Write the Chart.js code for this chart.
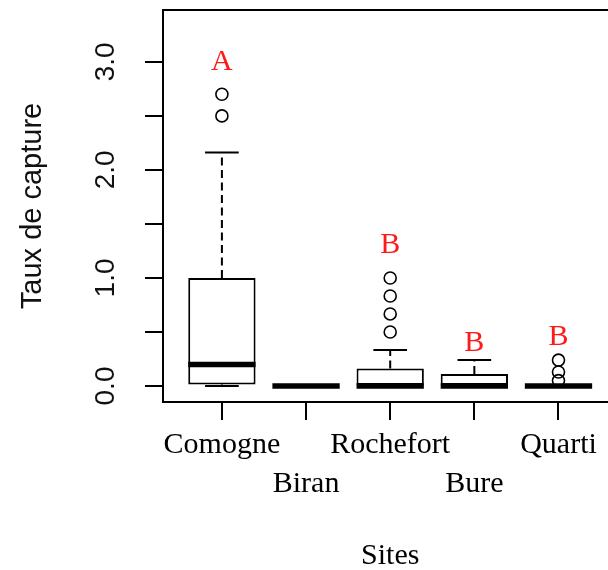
<!DOCTYPE html>
<html>
<head>
<meta charset="utf-8">
<script src="https://cdn.jsdelivr.net/npm/chart.js@4/dist/chart.umd.min.js"></script>
<style>
html, body { margin: 0; padding: 0; overflow: hidden; background: #fff; }
canvas { display: block; }
</style>
</head>
<body>
<canvas id="c" width="625" height="570"></canvas>
<script>
// ---- data ----
const sites = ['Comogne', 'Biran', 'Rochefort', 'Bure', 'Quarti'];
const whiskerLow = [0, 0, 0, 0, 0];
const q1 = [0.015, 0, 0, 0, 0];
const median = [0.2, 0, 0, 0, 0];
const q3 = [1.0, 0, 0.163, 0.11, 0];
const whiskerHigh = [2.16, 0, 0.333, 0.24, 0];
const outliers = [[2.5, 2.7], [], [0.5, 0.667, 0.833, 1.0], [], [0.05, 0.13, 0.24]];
const groupLetters = ['A', '', 'B', 'B', 'B'];
const letterY = [3.0, null, 1.3, 0.4, 0.45];
const yTicks = [0, 0.5, 1, 1.5, 2, 2.5, 3];
const yTickLabels = ['0.0', '', '1.0', '', '2.0', '', '3.0'];
const xLabelRows = [0, 1, 0, 1, 0]; // staggered label rows
const yTitle = 'Taux de capture';
const xTitle = 'Sites';

const boxData = sites.map((s, i) => ({ x: i + 1, y: [q1[i], q3[i]] }));
const outlierData = [];
outliers.forEach((arr, i) => arr.forEach(v => outlierData.push({ x: i + 1, y: v })));

const boxPlugin = {
  id: 'boxExtras',
  afterDatasetsDraw(chart) {
    const ctx = chart.ctx;
    const xs = chart.scales.x, ys = chart.scales.y;
    ctx.save();
    ctx.strokeStyle = '#000';
    sites.forEach((s, i) => {
      const cx = xs.getPixelForValue(i + 1);
      const half = xs.getPixelForValue(i + 1.4) - cx;
      const capHalf = xs.getPixelForValue(i + 1.2) - cx;
      // dashed whiskers
      ctx.lineWidth = 2;
      ctx.setLineDash([8, 4.5]);
      ctx.beginPath();
      ctx.moveTo(cx, ys.getPixelForValue(q3[i]));
      ctx.lineTo(cx, ys.getPixelForValue(whiskerHigh[i]));
      ctx.moveTo(cx, ys.getPixelForValue(q1[i]));
      ctx.lineTo(cx, ys.getPixelForValue(whiskerLow[i]));
      ctx.stroke();
      ctx.setLineDash([]);
      // whisker caps
      ctx.beginPath();
      const yh = ys.getPixelForValue(whiskerHigh[i]);
      const yl = ys.getPixelForValue(whiskerLow[i]);
      ctx.moveTo(cx - capHalf, yh); ctx.lineTo(cx + capHalf, yh);
      ctx.moveTo(cx - capHalf, yl); ctx.lineTo(cx + capHalf, yl);
      ctx.stroke();
      // median
      ctx.lineWidth = 5.5;
      const ym = ys.getPixelForValue(median[i]);
      ctx.beginPath();
      ctx.moveTo(cx - half, ym); ctx.lineTo(cx + half, ym);
      ctx.stroke();
    });
    ctx.restore();
  },
  afterDraw(chart) {
    const ctx = chart.ctx;
    const xs = chart.scales.x, ys = chart.scales.y;
    const a = chart.chartArea;
    ctx.save();
    // plot frame
    ctx.strokeStyle = '#000';
    ctx.lineWidth = 2;
    ctx.strokeRect(a.left, a.top, a.right - a.left, a.bottom - a.top);
    // y tick labels (parallel to the axis, as in R)
    ctx.fillStyle = '#111';
    ctx.font = '28px "Liberation Sans", Arial, sans-serif';
    ctx.textAlign = 'center';
    ctx.textBaseline = 'middle';
    yTicks.forEach((v, i) => {
      if (!yTickLabels[i]) return;
      ctx.save();
      ctx.translate(a.left - 56.5, ys.getPixelForValue(v));
      ctx.rotate(-Math.PI / 2);
      ctx.fillText(yTickLabels[i], 0, 0);
      ctx.restore();
    });
    // y axis title
    ctx.font = '29px "Liberation Sans", Arial, sans-serif';
    ctx.save();
    ctx.translate(33, (a.top + a.bottom) / 2);
    ctx.rotate(-Math.PI / 2);
    ctx.fillText(yTitle, 0, 0);
    ctx.restore();
    // group letters
    ctx.fillStyle = '#ff1a1a';
    ctx.font = '30px "Liberation Serif", "Times New Roman", serif';
    groupLetters.forEach((t, i) => {
      if (!t) return;
      ctx.fillText(t, xs.getPixelForValue(i + 1), ys.getPixelForValue(letterY[i]));
    });
    ctx.restore();
  }
};

new Chart(document.getElementById('c'), {
  type: 'bar',
  data: {
    datasets: [
      {
        type: 'bar',
        data: boxData,
        backgroundColor: '#fff',
        borderColor: '#000',
        borderWidth: 2,
        borderSkipped: false,
        categoryPercentage: 1,
        barPercentage: 0.8,
        order: 2
      },
      {
        type: 'line',
        data: outlierData,
        showLine: false,
        pointRadius: 6,
        pointBorderWidth: 1.6,
        pointBorderColor: '#000',
        pointBackgroundColor: 'rgba(0,0,0,0)',
        order: 1
      }
    ]
  },
  options: {
    responsive: false,
    animation: false,
    layout: { padding: { top: 10, right: 6, left: 145, bottom: 0 } },
    plugins: { legend: { display: false }, tooltip: { enabled: false } },
    scales: {
      x: {
        type: 'linear',
        min: 0.3,
        max: 5.7,
        offset: false,
        afterBuildTicks(scale) { scale.ticks = sites.map((s, i) => ({ value: i + 1 })); },
        afterFit(scale) { scale.height = 168; },
        grid: { offset: false, drawOnChartArea: false, drawTicks: true, tickLength: 18, color: '#000', lineWidth: 2 },
        border: { display: true, color: '#000', width: 2 },
        ticks: {
          autoSkip: false,
          maxRotation: 0,
          minRotation: 0,
          padding: 6,
          color: '#000',
          font: { family: '"Liberation Serif", "Times New Roman", serif', size: 30, lineHeight: 1.3 },
          callback(v) {
            const i = Math.round(v) - 1;
            return xLabelRows[i] ? ['', sites[i]] : sites[i];
          }
        },
        title: {
          display: true,
          text: xTitle,
          color: '#000',
          font: { family: '"Liberation Serif", "Times New Roman", serif', size: 30, lineHeight: 0.9 },
          padding: { top: 0, bottom: 0 }
        }
      },
      y: {
        min: -0.148,
        max: 3.48,
        afterBuildTicks(scale) { scale.ticks = yTicks.map(v => ({ value: v })); },
        afterFit(scale) { scale.width = 18; scale.paddingTop = 0; scale.paddingBottom = 0; },
        grid: { drawOnChartArea: false, drawTicks: true, tickLength: 18, color: '#000', lineWidth: 2 },
        border: { display: true, color: '#000', width: 2 },
        ticks: { display: false, autoSkip: false },
        title: { display: false }
      }
    }
  },
  plugins: [boxPlugin]
});
</script>
</body>
</html>
